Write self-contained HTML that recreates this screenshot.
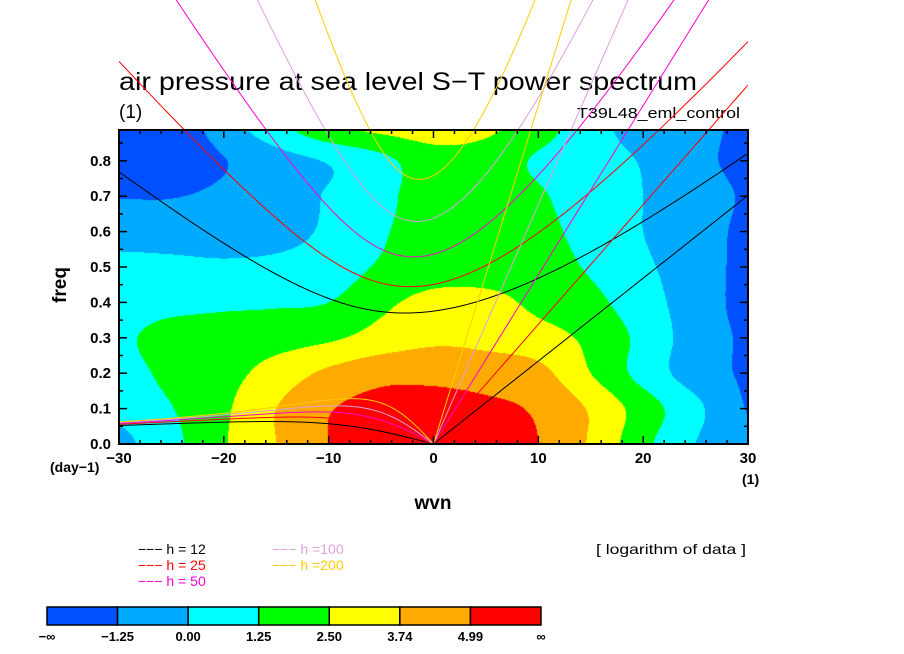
<!DOCTYPE html>
<html><head><meta charset="utf-8"><style>
html,body{margin:0;padding:0;background:#fff;}
#wrap{position:relative;width:904px;height:654px;overflow:hidden;font-family:"Liberation Sans",sans-serif;}
canvas,svg{position:absolute;left:0;top:0;}
</style></head><body>
<div id="wrap">
<canvas id="cv" width="904" height="654"></canvas>
<svg id="sv" width="904" height="654">
 <defs><clipPath id="clipc"><rect x="119" y="0" width="629" height="444"/></clipPath></defs>
 <text x="119" y="90" font-size="25" textLength="578" lengthAdjust="spacingAndGlyphs">air pressure at sea level S−T power spectrum</text>
 <text x="119" y="118" font-size="19">(1)</text>
 <text x="740" y="118" font-size="15" text-anchor="end" textLength="163" lengthAdjust="spacingAndGlyphs">T39L48_eml_control</text>
 <g id="curves" clip-path="url(#clipc)"></g>
 <g id="axes"></g>
 <text x="66" y="285" font-size="19" font-weight="bold" transform="rotate(-90 66 285)" text-anchor="middle">freq</text>
 <text x="433" y="509" font-size="19" font-weight="bold" text-anchor="middle">wvn</text>
 <text x="50" y="472" font-size="14" font-weight="bold">(day−1)</text>
 <text x="742" y="484" font-size="14" font-weight="bold">(1)</text>
 <g id="legend"></g>
 <text x="596" y="554" font-size="14" textLength="150" lengthAdjust="spacingAndGlyphs">[ logarithm of data ]</text>
 <g id="cbar"></g>
</svg>
</div>
<script>
// ---- data ----
const wavenumbers=[-30,-25,-20,-15,-10,-5,0,5,10,15,20,25,30];
const freqs=[0,0.1,0.2,0.3,0.4,0.5,0.6,0.7,0.8,0.9];
const row0=[-0.3,0.9,2.4,3.74,5.0,5.8,6.2,5.8,5.0,3.6,1.6,0.0,-1.0];
const row1=[0.3,1.2,2.3,3.74,4.9,5.4,5.6,5.3,4.8,3.6,1.9,0.3,-1.3];
const row2=[0.7,1.6,2.1,3.0,4.0,4.6,4.6,4.4,4.1,2.5,0.8,-0.6,-1.4];
const row3=[1.0,1.8,1.9,2.0,2.3,3.0,3.5,3.4,3.0,2.2,0.9,-0.6,-1.4];
const row4=[0.6,0.8,1.0,1.1,1.25,2.2,2.9,2.9,2.2,1.6,0.5,-0.6,-1.6];
const row5=[0.4,0.3,0.2,0.3,0.6,1.4,1.9,1.9,1.8,1.1,0.2,-0.6,-1.6];
const row6=[-0.6,-0.6,-0.6,-0.4,0.2,1.1,1.9,1.9,1.6,0.8,0.0,-0.7,-1.5];
const row7=[-1.3,-1.3,-1.0,-0.5,0.1,0.9,1.9,1.9,1.4,0.6,0.0,-0.6,-1.4];
const row8=[-2,-2,-1.3,-0.5,0.1,0.9,2.0,1.9,1.1,0.6,-0.1,-0.9,-1.6];
const row9=[-2,-2,-0.6,0.9,2.3,2.9,3.1,2.8,1.8,0.5,-0.6,-0.8,-1.6];
const levels=[-1.25,0,1.25,2.5,3.74,4.99];
const levelLabels=["−∞","−1.25","0.00","1.25","2.50","3.74","4.99","∞"];
const bandColors=["#0050ff","#00aaff","#00ffff","#00ff00","#ffff00","#ffaa00","#ff0000"];
const depths=[12,25,50,100,200];
const depthColors=["#000000","#ff0000","#ff00cc","#dda0dd","#ffcc00"];
const depthLabels=["h = 12","h = 25","h = 50","h =100","h =200"];
const xTicks=[-30,-20,-10,0,10,20,30];
const yTicks=[0,0.1,0.2,0.3,0.4,0.5,0.6,0.7,0.8];
const grid=[row0,row1,row2,row3,row4,row5,row6,row7,row8,row9];

// ---- axes ----
const X0=119,X1=748,Y0=444,Y1=130;
const sx=s=>X0+(s+30)/60*(X1-X0);
const fy=f=>Y0-f*354;
const NS="http://www.w3.org/2000/svg";
function mk(tag,attrs,parent){const e=document.createElementNS(NS,tag);for(const k in attrs)e.setAttribute(k,attrs[k]);parent.appendChild(e);return e;}

// ---- field (Catmull-Rom bicubic) ----
const NI=wavenumbers.length,NJ=freqs.length;
function G(j,i){i=Math.max(0,Math.min(NI-1,i));j=Math.max(0,Math.min(NJ-1,j));return grid[j][i];}
function cr(p0,p1,p2,p3,t){return 0.5*((2*p1)+(-p0+p2)*t+(2*p0-5*p1+4*p2-p3)*t*t+(-p0+3*p1-3*p2+p3)*t*t*t);}
function field(s,f){
  let i=(s-wavenumbers[0])/5; i=Math.max(0,Math.min(NI-1.0001,i));
  let j=(f-freqs[0])/0.1; j=Math.max(0,Math.min(NJ-1.0001,j));
  const i0=Math.floor(i),j0=Math.floor(j),A=i-i0,B=j-j0;
  const col=[];
  for(let dj=-1;dj<=2;dj++){col.push(cr(G(j0+dj,i0-1),G(j0+dj,i0),G(j0+dj,i0+1),G(j0+dj,i0+2),A));}
  return cr(col[0],col[1],col[2],col[3],B);
}
const cv=document.getElementById('cv');const ctx=cv.getContext('2d');
const img=ctx.createImageData(X1-X0,Y0-Y1);
const rgb=bandColors.map(c=>[parseInt(c.substr(1,2),16),parseInt(c.substr(3,2),16),parseInt(c.substr(5,2),16)]);
for(let py=0;py<Y0-Y1;py++){for(let px=0;px<X1-X0;px++){
  const s=(px+0.5)/(X1-X0)*60-30, f=(Y0-(Y1+py+0.5))/354;
  const v=field(s,f); let k=0; while(k<levels.length&&v>levels[k])k++;
  const o=(py*(X1-X0)+px)*4; img.data[o]=rgb[k][0];img.data[o+1]=rgb[k][1];img.data[o+2]=rgb[k][2];img.data[o+3]=255;}}
ctx.putImageData(img,X0,Y1);

// ---- dispersion curves ----
const g=9.81,a=6.371e6,Om=7.292e-5,beta=2*Om/a,conv=86400/(2*Math.PI);
function roots(k,c){
  const p=-(c*c*k*k+3*beta*c),q=-beta*k*c*c;
  const m=2*Math.sqrt(-p/3);const th=Math.acos(Math.max(-1,Math.min(1,(3*q)/(2*p)*Math.sqrt(-3/p))))/3;
  return [0,1,2].map(j=>m*Math.cos(th-2*Math.PI*j/3)).sort((u,v)=>v-u);
}
const cg=document.getElementById('curves');
depths.forEach((h,di)=>{
  const c=Math.sqrt(g*h);let ig=[],ro=[],kv=[];
  for(let s=-30;s<=30.001;s+=0.25){const k=s/a;const r=roots(k,c);
    ig.push(sx(s).toFixed(2)+","+fy(r[0]*conv).toFixed(2));
    if(s<=0)ro.push(sx(s).toFixed(2)+","+fy(r[1]*conv).toFixed(2));
    if(s>=0)kv.push(sx(s).toFixed(2)+","+fy(c*k*conv).toFixed(2));}
  const e1=mk('polyline',{points:ig.join(' '),fill:'none',stroke:depthColors[di],'stroke-width':1},cg);
  
  
  const e2=mk('polyline',{points:ro.join(' '),fill:'none',stroke:depthColors[di],'stroke-width':1},cg);
  
  
  const e3=mk('polyline',{points:kv.join(' '),fill:'none',stroke:depthColors[di],'stroke-width':1},cg);
  
  
});

// ---- axes drawing ----
const ax=document.getElementById('axes');
const fr=mk('rect',{x:X0,y:Y1,width:X1-X0,height:Y0-Y1,fill:'none',stroke:'#000','stroke-width':2},ax);


for(let s=-30;s<=30;s+=2){const maj=s%10===0;const L=maj?8:4;const x=sx(s);
  mk('line',{x1:x,y1:Y0,x2:x,y2:Y0-L,stroke:'#000','stroke-width':1.5},ax);
  mk('line',{x1:x,y1:Y1,x2:x,y2:Y1+L,stroke:'#000','stroke-width':1.5},ax);}
for(let i=0;i<=17;i++){const f=i*0.05;const maj=i%2===0;const L=maj?8:4;const y=fy(f);
  mk('line',{x1:X0,y1:y,x2:X0+L,y2:y,stroke:'#000','stroke-width':1.5},ax);
  mk('line',{x1:X1,y1:y,x2:X1-L,y2:y,stroke:'#000','stroke-width':1.5},ax);}
xTicks.forEach(s=>{const t=mk('text',{x:sx(s),y:463,'font-size':15,'font-weight':'bold','text-anchor':'middle'},ax);t.textContent=(s<0?'−':'')+Math.abs(s);
  
  });
yTicks.forEach(f=>{const t=mk('text',{x:111,y:fy(f)+5,'font-size':15,'font-weight':'bold','text-anchor':'end'},ax);t.textContent=f.toFixed(1);
  
  });

// ---- legend ----
const lg=document.getElementById('legend');
depths.forEach((h,di)=>{const col=di<3?0:1,row=di<3?di:di-3;const x=col?272:138,y=554+row*16;
  const t=mk('text',{x:x,y:y,'font-size':14,fill:depthColors[di],'xml:space':'preserve'},lg);t.textContent='−−−  '+depthLabels[di].replace(' = ','  =  ').replace(' =',' =');
  
  });

// ---- colorbar ----
const cb=document.getElementById('cbar');const cbx0=47,cbx1=541,cbw=(cbx1-cbx0)/7;
bandColors.forEach((c,i)=>{const r=mk('rect',{x:cbx0+i*cbw,y:607,width:cbw,height:18,fill:c,stroke:'#000','stroke-width':1.5},cb);
  
  });
levelLabels.forEach((l,i)=>{const t=mk('text',{x:cbx0+i*cbw,y:641,'font-size':13,'font-weight':'bold','text-anchor':'middle'},cb);t.textContent=l;
  
  });
</script>
</body></html>
